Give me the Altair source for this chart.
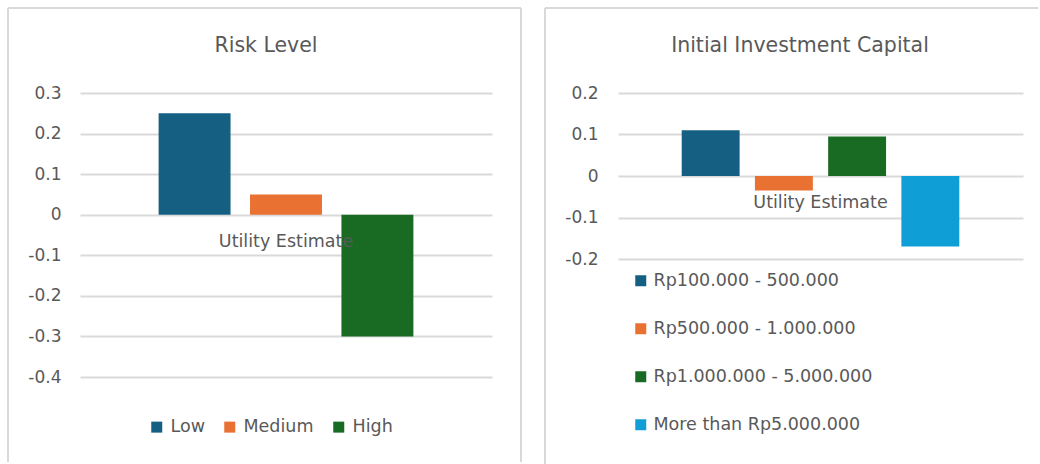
import altair as alt
import pandas as pd

# ---------------- data ----------------
measure = "Utility Estimate"

risk_title = "Risk Level"
risk_levels = ["Low", "Medium", "High"]
risk_values = [0.25, 0.05, -0.30]
risk_colors = ["#156082", "#E97132", "#196B24"]
risk_ticks = [0.3, 0.2, 0.1, 0, -0.1, -0.2, -0.3, -0.4]
risk_domain = [-0.4, 0.3]

cap_title = "Initial Investment Capital"
cap_levels = [
    "Rp100.000 - 500.000",
    "Rp500.000 - 1.000.000",
    "Rp1.000.000 - 5.000.000",
    "More than Rp5.000.000",
]
cap_values = [0.11, -0.035, 0.095, -0.17]
cap_colors = ["#156082", "#E97132", "#196B24", "#0F9ED5"]
cap_ticks = [0.2, 0.1, 0, -0.1, -0.2]
cap_domain = [-0.2, 0.2]

# ---------------- style ----------------
FONT = "DejaVu Sans"
TEXT = "#595959"
GRID = "#d9d9d9"
BORDER = "#d9d9d9"
LABEL_SIZE = 17
CAT_SIZE = 17.5
LEGEND_SIZE = 17.5
TITLE_SIZE = 20.5


def one_row():
    return alt.Chart(pd.DataFrame({"k": [0]}))


def rule(x1, x2, y1, y2, opacity=1.0):
    return one_row().mark_rule(color=BORDER, strokeWidth=2, opacity=opacity).encode(
        x=alt.value(x1), x2=alt.value(x2), y=alt.value(y1), y2=alt.value(y2)
    )


def panel(title, levels, values, colors, ticks, domain, width, height,
          pin, pout, legend, title_xy, frame, label_pad):
    df = pd.DataFrame({
        "measure": [measure] * len(levels),
        "series": levels,
        "value": values,
    })
    bars = alt.Chart(df).mark_bar().encode(
        x=alt.X("measure:N", axis=None,
                scale=alt.Scale(paddingInner=0, paddingOuter=0)),
        xOffset=alt.XOffset("series:N",
                            scale=alt.Scale(domain=levels, paddingInner=pin,
                                            paddingOuter=pout)),
        y=alt.Y("value:Q", title=None,
                scale=alt.Scale(domain=domain, nice=False, zero=False),
                axis=alt.Axis(values=ticks, labelExpr="toString(datum.value)",
                              domain=False, ticks=False, tickSize=0,
                              labelPadding=label_pad, labelFontSize=LABEL_SIZE,
                              labelFont=FONT, labelColor=TEXT,
                              gridColor=GRID, gridWidth=1.8)),
        color=alt.Color("series:N", scale=alt.Scale(domain=levels, range=colors),
                        legend=legend),
    )
    cat_label = alt.Chart(pd.DataFrame({"measure": [measure]})).mark_text(
        dy=27, font=FONT, fontSize=CAT_SIZE, color=TEXT, baseline="middle"
    ).encode(x=alt.X("measure:N"), y=alt.datum(0), text="measure:N")
    title_mark = one_row().mark_text(
        text=title, font=FONT, fontSize=TITLE_SIZE, color=TEXT,
        align="center", baseline="middle"
    ).encode(x=alt.value(title_xy[0]), y=alt.value(title_xy[1]))
    layers = [bars, cat_label, title_mark] + [rule(*f) for f in frame]
    return alt.layer(*layers).properties(width=width, height=height)


left_legend = alt.Legend(
    orient="none", legendX=68, legendY=325, direction="horizontal", title=None,
    symbolType="square", symbolSize=121, symbolStrokeWidth=0,
    labelFontSize=LEGEND_SIZE, labelFont=FONT, labelColor=TEXT, labelLimit=400,
    labelOffset=5, columnPadding=16, padding=0,
)
right_legend = alt.Legend(
    orient="none", legendX=14, legendY=179, direction="vertical", title=None,
    symbolType="square", symbolSize=121, symbolStrokeWidth=0,
    labelFontSize=LEGEND_SIZE, labelFont=FONT, labelColor=TEXT, labelLimit=400,
    labelOffset=4, rowPadding=29, padding=0,
)

left = panel(
    risk_title, risk_levels, risk_values, risk_colors, risk_ticks, risk_domain,
    412, 284, 0.213, 0.86, left_legend, (186, -47),
    [(-72, -72, -85, 369), (441, 441, -85, 369), (-72, 441, -85, -85),
     (0, 10, -88, -88, 0.0)],
    19,
)
right = panel(
    cap_title, cap_levels, cap_values, cap_colors, cap_ticks, cap_domain,
    405, 166, 0.209, 0.87, right_legend, (182, -47),
    [(-73, -73, -85, 372), (-73, 420, -85, -85)],
    20,
)

chart = alt.hconcat(left, right, spacing=22).resolve_scale(
    color="independent", y="independent", x="independent", xOffset="independent"
).properties(
    padding={"left": 7, "top": 5, "right": 0, "bottom": 0},
    background="white",
).configure_view(strokeWidth=0)

chart.save("out.html", embed_options={"renderer": "svg", "actions": False})
